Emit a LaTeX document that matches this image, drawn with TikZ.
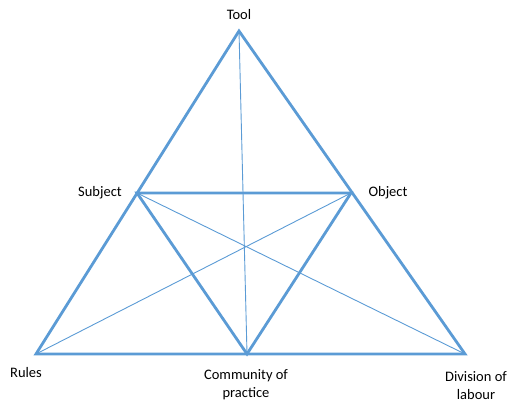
\documentclass[tikz,border=0pt]{standalone}
\usepackage{fontspec}
\setmainfont{Carlito}
\definecolor{triblue}{RGB}{91,155,213}
\begin{document}
\begin{tikzpicture}[x=1pt,y=-1pt,
  thickline/.style={draw=triblue,line width=2.8pt,line join=miter},
  thinline/.style={draw=triblue,line width=0.9pt},
  lbl/.style={font=\fontsize{14.5}{18}\selectfont,align=center,inner sep=0pt}]
\useasboundingbox (0,0) rectangle (510,403);
\coordinate (tool) at (239,31);
\coordinate (subject) at (137,193);
\coordinate (object) at (351,193);
\coordinate (rules) at (36,354);
\coordinate (community) at (247,354);
\coordinate (division) at (465,354);
\draw[thinline] (tool) -- (community);
\draw[thinline] (subject) -- (division);
\draw[thinline] (object) -- (rules);
\draw[thickline] (tool) -- (rules) -- (division) -- cycle;
\draw[thickline] (subject) -- (object) -- (community) -- cycle;
\node[lbl] (tooll) at (239,15) {Tool};
\node[lbl] (subjectl) at (100,193) {Subject};
\node[lbl] (objectl) at (388,193) {Object};
\node[lbl] (rulesl) at (26,373) {Rules};
\node[lbl] (communityl) at (246,385) {Community of\\practice};
\node[lbl] (divisionl) at (476,386) {Division of\\labour};
\end{tikzpicture}
\end{document}
